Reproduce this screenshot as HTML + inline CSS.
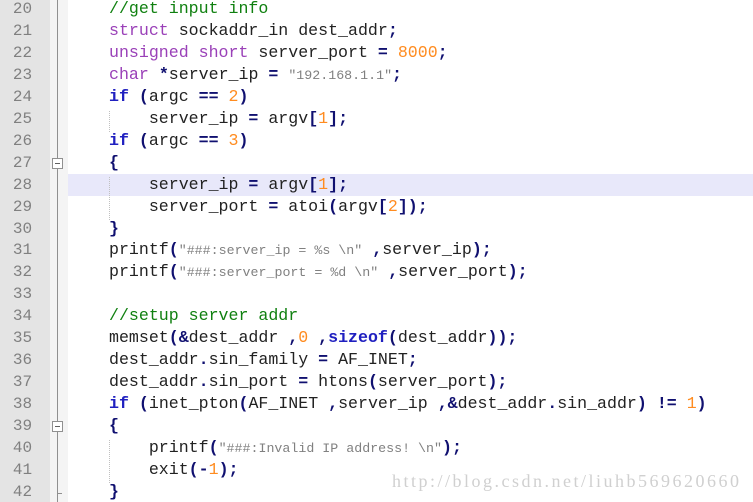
<!DOCTYPE html>
<html><head><meta charset="utf-8"><style>
html,body{margin:0;padding:0;width:753px;height:502px;overflow:hidden;background:#fff;}
#g{position:absolute;left:0;top:0;width:50px;height:502px;background:#e4e4e4;}
#g2{position:absolute;left:50px;top:0;width:18px;height:502px;background:#f4f4f4;}
#fl{position:absolute;left:57px;top:0;width:1px;height:502px;background:#909090;}
.hl{position:absolute;left:68px;top:174px;width:685px;height:22px;background:#e8e8fa;}
.n{position:absolute;left:0;width:45px;text-align:center;font:16px "Liberation Mono",monospace;color:#808080;}
.l{position:absolute;left:109px;white-space:pre;font:16.6px "Liberation Mono",monospace;color:#222;}
.k{color:#9a40b8}.b{color:#2020c0;font-weight:bold}.c{color:#108010}.o{color:#101070;font-weight:bold}.d{color:#ff8c20}
.s{color:#808080;font-family:"Liberation Mono",monospace;font-size:13.3px;}
.fb{position:absolute;left:52px;width:9px;height:9px;border:1px solid #909090;background:#fff;}
.fb:after{content:"";position:absolute;left:2px;top:4px;width:5px;height:1px;background:#606060;}
.vg{position:absolute;left:109px;width:0;border-left:1px dotted #c0c0c0;}
#wm{position:absolute;left:392px;top:471px;font:18px "Liberation Serif",serif;color:#d0d0d0;letter-spacing:2.5px;white-space:nowrap;}
</style></head><body>
<div id="g"></div><div id="g2"></div><div id="fl"></div>
<div class="hl"></div>
<div class="fb" style="top:158px"></div>
<div class="fb" style="top:421px"></div>
<div style="position:absolute;left:57px;top:493px;width:5px;height:1px;background:#909090"></div>
<div class="vg" style="top:111px;height:21px"></div>
<div class="vg" style="top:177px;height:43px"></div>
<div class="vg" style="top:440px;height:43px"></div>
<div id="lines"></div>
<script>
var L=[
'<span class="c">//get input info</span>',
'<span class="k">struct</span> sockaddr_in dest_addr<span class="o">;</span>',
'<span class="k">unsigned</span> <span class="k">short</span> server_port <span class="o">=</span> <span class="d">8000</span><span class="o">;</span>',
'<span class="k">char</span> <span class="o">*</span>server_ip <span class="o">=</span> <span class="s">"192.168.1.1"</span><span class="o">;</span>',
'<span class="b">if</span> <span class="o">(</span>argc <span class="o">==</span> <span class="d">2</span><span class="o">)</span>',
'    server_ip <span class="o">=</span> argv<span class="o">[</span><span class="d">1</span><span class="o">];</span>',
'<span class="b">if</span> <span class="o">(</span>argc <span class="o">==</span> <span class="d">3</span><span class="o">)</span>',
'<span class="o">{</span>',
'    server_ip <span class="o">=</span> argv<span class="o">[</span><span class="d">1</span><span class="o">];</span>',
'    server_port <span class="o">=</span> atoi<span class="o">(</span>argv<span class="o">[</span><span class="d">2</span><span class="o">]);</span>',
'<span class="o">}</span>',
'printf<span class="o">(</span><span class="s">"###:server_ip = %s \\n"</span> <span class="o">,</span>server_ip<span class="o">);</span>',
'printf<span class="o">(</span><span class="s">"###:server_port = %d \\n"</span> <span class="o">,</span>server_port<span class="o">);</span>',
'',
'<span class="c">//setup server addr</span>',
'memset<span class="o">(&amp;</span>dest_addr <span class="o">,</span><span class="d">0</span> <span class="o">,</span><span class="b">sizeof</span><span class="o">(</span>dest_addr<span class="o">));</span>',
'dest_addr<span class="o">.</span>sin_family <span class="o">=</span> AF_INET<span class="o">;</span>',
'dest_addr<span class="o">.</span>sin_port <span class="o">=</span> htons<span class="o">(</span>server_port<span class="o">);</span>',
'<span class="b">if</span> <span class="o">(</span>inet_pton<span class="o">(</span>AF_INET <span class="o">,</span>server_ip <span class="o">,&amp;</span>dest_addr<span class="o">.</span>sin_addr<span class="o">)</span> <span class="o">!=</span> <span class="d">1</span><span class="o">)</span>',
'<span class="o">{</span>',
'    printf<span class="o">(</span><span class="s">"###:Invalid IP address! \\n"</span><span class="o">);</span>',
'    exit<span class="o">(-</span><span class="d">1</span><span class="o">);</span>',
'<span class="o">}</span>'];
var h='';
for(var i=0;i<L.length;i++){var t=-1+i*21.95;
h+='<div class="n" style="top:'+(t+1)+'px">'+(20+i)+'</div><div class="l" style="top:'+t+'px">'+L[i]+'</div>';}
document.getElementById('lines').innerHTML=h;
</script>
<div id="wm">http://blog.csdn.net/liuhb569620660</div>
</body></html>
